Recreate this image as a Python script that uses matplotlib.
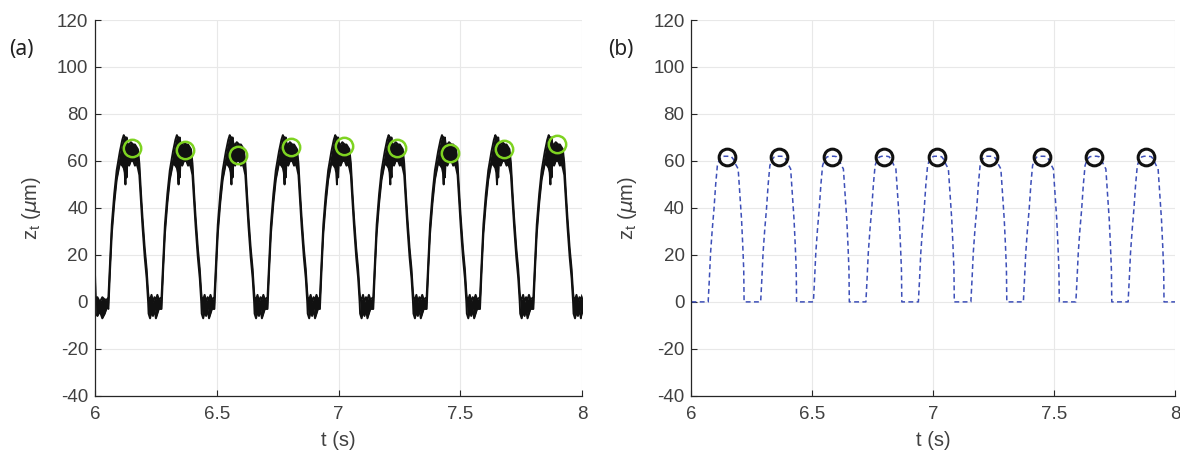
import matplotlib
matplotlib.use("Agg")
import matplotlib.pyplot as plt
import numpy as np

meas_peak_t = [6.152, 6.370, 6.587, 6.805, 7.020, 7.239, 7.458, 7.677, 7.896]
meas_peak_z = [65.4, 64.5, 62.4, 66.1, 66.4, 65.7, 63.6, 65.1, 67.4]

# one cycle of the noisy band, as offsets from the marker time
meas_dt = [-0.097, -0.090, -0.083, -0.073, -0.063, -0.050, -0.040, -0.034,
           -0.030, -0.027, -0.025, -0.022, -0.020, -0.017, -0.012, -0.005,
           0.005, 0.012, 0.018, 0.024, 0.030, 0.037, 0.043, 0.052, 0.060,
           0.066, 0.068, 0.074, 0.080, 0.086, 0.092, 0.098, 0.104, 0.110]
meas_hi = [2, 18, 33, 46, 56, 64, 69, 71, 70, 70, 69, 70, 68, 67, 67, 68,
           67, 67, 66, 65, 59, 46, 36, 23, 14, 4, 2, 1, 3, 0, 2, 1, 3, 1]
meas_lo = [-3, 14, 29, 42, 52, 59, 58, 57, 55, 50, 57, 53, 58, 60, 58, 60,
           60, 58, 59, 57, 54, 42, 32, 19, 10, 0, -5, -7, -4, -6, -3, -7, -5, -3]

# tail of the previous cycle and first trough before t = 6.055
lead_t = [6.0, 6.003, 6.010, 6.020, 6.030, 6.040, 6.050]
lead_hi = [12, 1, 2, 0, 2, 1, 1]
lead_lo = [9, -5, -6, -4, -7, -5, -2]

# (b) model trace -- peak markers and one cycle of the curve
model_peak_t = [6.145, 6.362, 6.580, 6.797, 7.014, 7.231, 7.448, 7.665, 7.881]
model_peak_z = [61.7, 61.7, 61.7, 61.7, 61.7, 61.7, 61.7, 61.7, 61.7]
model_dt = [-0.076, -0.071, -0.066, -0.059, -0.052, -0.045, -0.038, -0.030,
            -0.020, -0.010, 0.0, 0.010, 0.020, 0.030, 0.038, 0.048, 0.055,
            0.062, 0.067, 0.071, 0.0725]
model_z = [0, 10, 21, 31, 39.5, 50, 58, 60.5, 61.7, 62, 62, 62, 61.8, 60.5,
           58.5, 56.6, 46, 35, 24, 13.7, 0]

xticks = [6, 6.5, 7, 7.5, 8]
xtick_labels = ["6", "6.5", "7", "7.5", "8"]
yticks = [-40, -20, 0, 20, 40, 60, 80, 100, 120]

# assemble the traces
t_meas = list(lead_t)
hi_meas = list(lead_hi)
lo_meas = list(lead_lo)
for tp in meas_peak_t:
    t_meas += [tp + d for d in meas_dt]
    hi_meas += meas_hi
    lo_meas += meas_lo
t_meas = np.array(t_meas)
hi_meas = np.array(hi_meas, dtype=float)
lo_meas = np.array(lo_meas, dtype=float)

t_model = [6.0]
z_model = [0.0]
for tp in model_peak_t:
    t_model += [tp + d for d in model_dt]
    z_model += model_z
t_model += [8.0]
z_model += [0.0]

plt.rcParams["font.family"] = ["Liberation Sans", "DejaVu Sans"]
plt.rcParams["mathtext.fontset"] = "dejavusans"
plt.rcParams["axes.unicode_minus"] = False

fig = plt.figure(figsize=(11.8, 4.55), dpi=100)
ax_a = fig.add_axes([0.0805, 0.130, 0.413, 0.826])
ax_b = fig.add_axes([0.586, 0.130, 0.410, 0.826])

tick_col = "#404040"
for ax in (ax_a, ax_b):
    ax.set_xlim(6, 8)
    ax.set_ylim(-40, 120)
    ax.set_xticks(xticks)
    ax.set_xticklabels(xtick_labels)
    ax.set_yticks(yticks)
    ax.grid(True, color="#e8e8e8", linewidth=0.8)
    ax.set_axisbelow(True)
    for side in ("top", "right"):
        ax.spines[side].set_visible(False)
    for side in ("left", "bottom"):
        ax.spines[side].set_color("#262626")
        ax.spines[side].set_linewidth(0.9)
    ax.tick_params(direction="in", length=4, width=0.8, colors="#262626",
                   labelcolor=tick_col, labelsize=13.5)
    ax.tick_params(axis="x", pad=7)
    ax.tick_params(axis="y", pad=5)
    ax.set_xlabel("t (s)", fontsize=14.5, color=tick_col, labelpad=6)
    ax.set_ylabel(r"z$_\mathregular{t}$ ($\mu$m)", fontsize=14.5,
                  color=tick_col, labelpad=10)

# (a)
ax_a.fill_between(t_meas, lo_meas, hi_meas, color="#111111", linewidth=0)
ax_a.plot(t_meas, hi_meas, color="#111111", linewidth=1.4)
ax_a.plot(t_meas, lo_meas, color="#111111", linewidth=1.4)
ax_a.plot(meas_peak_t, meas_peak_z, "o", markersize=12.5, markerfacecolor="none",
          markeredgecolor="#7ed321", markeredgewidth=1.8)

# (b)
ax_b.plot(t_model, z_model, color="#3d4fb8", linewidth=1.1,
          linestyle=(0, (3.2, 2.2)))
ax_b.plot(model_peak_t, model_peak_z, "o", markersize=12, markerfacecolor="none",
          markeredgecolor="#111111", markeredgewidth=2.2)

fig.text(0.008, 0.880, "(a)", fontsize=15, color="#222222", family="Noto Sans")
fig.text(0.515, 0.880, "(b)", fontsize=15, color="#222222", family="Noto Sans")

fig.savefig("out.png", dpi=100)
